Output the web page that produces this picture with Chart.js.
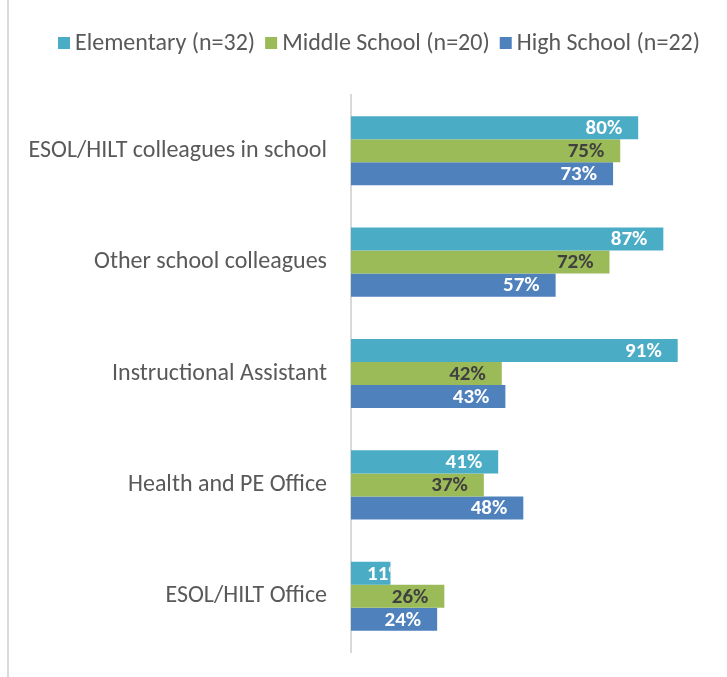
<!DOCTYPE html>
<html>
<head>
<meta charset="utf-8">
<script src="https://cdn.jsdelivr.net/npm/chart.js@4"></script>
<style>
  html, body { margin: 0; padding: 0; background: #fff; overflow: hidden; }
  #frame { position: absolute; left: 7px; top: 0; width: 744px; height: 677px; border-left: 2px solid #d9d9d9; }
  #chart { display: block; }
</style>
</head>
<body>
<div id="frame"><canvas id="chart" width="742" height="677"></canvas></div>
<script>
var categories = ['ESOL/HILT colleagues in school', 'Other school colleagues', 'Instructional Assistant', 'Health and PE Office', 'ESOL/HILT Office'];
var seriesNames = ['Elementary (n=32)', 'Middle School (n=20)', 'High School (n=22)'];
var elementary = [80, 87, 91, 41, 11];
var middleSchool = [75, 72, 42, 37, 26];
var highSchool = [73, 57, 43, 48, 24];

var fontFamily = "Carlito, Lato, 'Open Sans', sans-serif";

// legend drawn by hand so the box-to-text gap matches the original
var topLegend = {
    id: 'topLegend',
    afterDraw: function(chart) {
        var ctx = chart.ctx;
        var ds = chart.data.datasets;
        ctx.save();
        ctx.font = '24px ' + fontFamily;
        var widths = ds.map(function(d) { return 12 + 5 + ctx.measureText(d.label).width; });
        var total = widths.reduce(function(a, b) { return a + b; }, 0) + 10 * (ds.length - 1);
        var x = 370 - total / 2;
        var y = 43;
        ctx.textBaseline = 'middle';
        ctx.textAlign = 'left';
        ds.forEach(function(d, i) {
            ctx.fillStyle = d.backgroundColor;
            ctx.fillRect(x, y - 6, 12, 12);
            ctx.fillStyle = '#595959';
            ctx.fillText(d.label, x + 17, y + 1);
            x += widths[i] + 10;
        });
        ctx.restore();
    }
};

// labels drawn at the inside end of each bar, clipped to the bar
var barLabels = {
    id: 'barLabels',
    afterDatasetsDraw: function(chart) {
        var ctx = chart.ctx;
        chart.data.datasets.forEach(function(ds, i) {
            var meta = chart.getDatasetMeta(i);
            meta.data.forEach(function(bar, j) {
                var text = ds.data[j] + '%';
                ctx.save();
                ctx.font = 'bold 21px ' + fontFamily;
                var w = ctx.measureText(text).width;
                var top = bar.y - bar.height / 2;
                ctx.beginPath();
                ctx.rect(bar.base, top, bar.x - bar.base, bar.height);
                ctx.clip();
                var x = Math.max(bar.x - 16 - w, bar.base + 16);
                ctx.fillStyle = ds.labelColor;
                ctx.textBaseline = 'middle';
                ctx.textAlign = 'left';
                ctx.fillText(text, x, bar.y + 1);
                ctx.restore();
            });
        });
    }
};

new Chart(document.getElementById('chart').getContext('2d'), {
    type: 'bar',
    data: {
        labels: categories,
        datasets: [
            { label: seriesNames[0], data: elementary, backgroundColor: '#4bacc6', labelColor: '#ffffff' },
            { label: seriesNames[1], data: middleSchool, backgroundColor: '#9bbb59', labelColor: '#404040' },
            { label: seriesNames[2], data: highSchool, backgroundColor: '#4f81bd', labelColor: '#ffffff' }
        ]
    },
    options: {
        indexAxis: 'y',
        responsive: false,
        animation: false,
        layout: { padding: { top: 95, right: 41, bottom: 25, left: 0 } },
        datasets: { bar: { barPercentage: 1, categoryPercentage: 0.62 } },
        scales: {
            x: { display: false, min: 0, max: 100 },
            y: {
                grid: { display: false },
                border: { display: true, color: '#d9d9d9', width: 2 },
                ticks: { color: '#595959', font: { size: 24, family: fontFamily }, padding: 16 },
                afterFit: function(scale) {
                    scale.width = 342;
                    scale.paddingTop = 0;
                    scale.paddingBottom = 0;
                }
            }
        },
        plugins: {
            legend: { display: false },
            tooltip: { enabled: false }
        }
    },
    plugins: [topLegend, barLabels]
});
</script>
</body>
</html>
